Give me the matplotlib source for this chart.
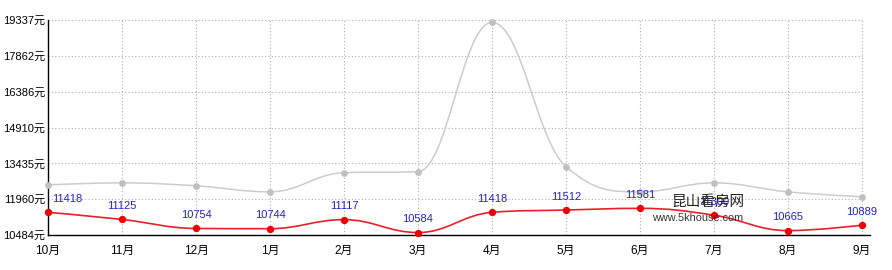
import matplotlib
matplotlib.use("Agg")
import matplotlib.pyplot as plt
from matplotlib.path import Path
from matplotlib.patches import PathPatch

plt.rcParams['font.family'] = ['Liberation Sans', 'Noto Sans CJK SC']

months = ['10月', '11月', '12月', '1月', '2月', '3月', '4月', '5月', '6月', '7月', '8月', '9月']
red_values = [11418, 11125, 10754, 10744, 11117, 10584, 11418, 11512, 11581, 11300, 10665, 10889]
gray_values = [12550, 12630, 12510, 12260, 13050, 13090, 19237, 13300, 12260, 12630, 12260, 12060]
yticks = [10484, 11960, 13435, 14910, 16386, 17862, 19337]


def spline_path(xs, ys, smoothing=1.5):
    denom = smoothing + 1
    n = len(xs)
    left = [None] * n
    right = [None] * n
    for i in range(n):
        x, y = xs[i], ys[i]
        if 0 < i < n - 1:
            lx, ly = xs[i - 1], ys[i - 1]
            nx, ny = xs[i + 1], ys[i + 1]
            lcx = (smoothing * x + lx) / denom
            lcy = (smoothing * y + ly) / denom
            rcx = (smoothing * x + nx) / denom
            rcy = (smoothing * y + ny) / denom
            if rcx != lcx:
                corr = ((rcy - lcy) * (rcx - x)) / (rcx - lcx) + y - rcy
                lcy += corr
                rcy += corr
            if lcy > ly and lcy > y:
                lcy = max(ly, y)
                rcy = 2 * y - lcy
            elif lcy < ly and lcy < y:
                lcy = min(ly, y)
                rcy = 2 * y - lcy
            if rcy > ny and rcy > y:
                rcy = max(ny, y)
                lcy = 2 * y - rcy
            elif rcy < ny and rcy < y:
                rcy = min(ny, y)
                lcy = 2 * y - rcy
            left[i] = (lcx, lcy)
            right[i] = (rcx, rcy)
        else:
            left[i] = (x, y)
            right[i] = (x, y)
    verts = [(xs[0], ys[0])]
    codes = [Path.MOVETO]
    for i in range(1, n):
        verts += [right[i - 1], left[i], (xs[i], ys[i])]
        codes += [Path.CURVE4] * 3
    return Path(verts, codes)


W, H = 892, 270
fig = plt.figure(figsize=(W / 100, H / 100), dpi=100)
ax_left, ax_right, ax_top, ax_bottom = 48, 870, 20, 235
ax = fig.add_axes([ax_left / W, 1 - ax_bottom / H, (ax_right - ax_left) / W, (ax_bottom - ax_top) / H])

x = list(range(len(months)))
xmax = 11 + (870 - 862) / 74
ax.set_xlim(0, xmax)
ax.set_ylim(yticks[0], yticks[-1])

# grid
for yv in yticks[1:]:
    ax.plot([0, 11], [yv, yv], color='#b0b0b0', lw=0.8, ls=(0, (1, 2)), zorder=1, clip_on=False)
for xv in x[1:]:
    ax.plot([xv, xv], [yticks[0], yticks[-1]], color='#b0b0b0', lw=0.8, ls=(0, (1, 2)), zorder=1, clip_on=False)

ax.add_patch(PathPatch(spline_path(x, gray_values), fill=False, edgecolor='#cccccc', lw=1.1, zorder=2, clip_on=False))
ax.scatter(x, gray_values, s=24, color='#c0c0c0', zorder=3, clip_on=False, linewidths=0)

ax.add_patch(PathPatch(spline_path(x, red_values), fill=False, edgecolor='#e8202a', lw=1.2, zorder=4, clip_on=False))
ax.scatter(x, red_values, s=28, color='#ee0000', zorder=5, clip_on=False, linewidths=0)

for i, (xi, v) in enumerate(zip(x, red_values)):
    if i == 0:
        ax.annotate(str(v), (xi, v), xytext=(3, 6), textcoords='offset points', ha='left', va='bottom',
                    color='#2222cc', fontsize=8, zorder=6)
    else:
        ax.annotate(str(v), (xi, v), xytext=(0, 6), textcoords='offset points', ha='center', va='bottom',
                    color='#2222cc', fontsize=8, zorder=6)

# watermark
fig.text(708 / W, 1 - 202 / H, '昆山看房网', ha='center', va='center', fontsize=10.5, color='#222222',
         family=['Noto Sans CJK SC'], zorder=10)
fig.text(698 / W, 1 - 218 / H, 'www.5khouse.com', ha='center', va='center', fontsize=7.8, color='#333333', zorder=10)

for s in ['top', 'right']:
    ax.spines[s].set_visible(False)
for s in ['left', 'bottom']:
    ax.spines[s].set_color('black')
    ax.spines[s].set_linewidth(1.0)

ax.set_yticks(yticks)
ax.set_yticklabels([f'{v}元' for v in yticks])
ax.set_xticks(x)
ax.set_xticklabels(months)
ax.tick_params(axis='y', length=0, labelsize=8, colors='black', pad=2)
ax.tick_params(axis='x', length=0, labelsize=8.5, colors='black', pad=7)

fig.savefig('out.png', dpi=100)
